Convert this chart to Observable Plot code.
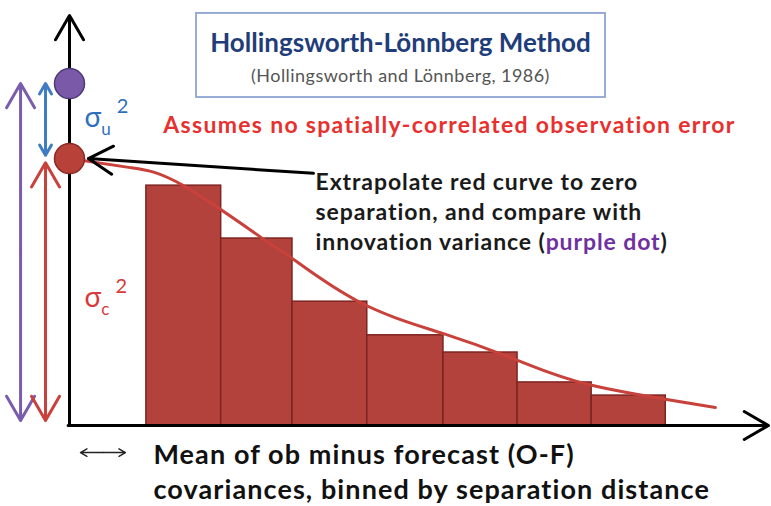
<!DOCTYPE html>
<html><head><meta charset="utf-8">
<script src="https://cdn.jsdelivr.net/npm/d3@7"></script>
<script src="https://cdn.jsdelivr.net/npm/@observablehq/plot@0.6"></script>
<style>body{margin:0;background:#fff} svg{display:block}</style>
</head><body><div id="chart"></div>
<script>
// ---- data (separation distance in bin units, covariance normalised) ----
const binStart = [1.10, 2.17, 3.19, 4.26, 5.35, 6.41, 7.47];
const binEnd   = [2.17, 3.19, 4.26, 5.35, 6.41, 7.47, 8.53];
const meanCov  = [0.585, 0.456, 0.302, 0.220, 0.178, 0.105, 0.073];

const curveDist = [0, 0.87, 1.63, 2.78, 3.19, 4.16, 5.35, 6.41, 7.47, 9.24];
const curveCov  = [0.651, 0.629, 0.585, 0.454, 0.407, 0.300, 0.224, 0.159, 0.098, 0.044];

const innovationVar = 0.834;   // purple dot
const extrapolatedVar = 0.651; // red dot

const titleText = "Hollingsworth-Lönnberg Method";
const subtitleText = "(Hollingsworth and Lönnberg, 1986)";
const assumptionText = "Assumes no spatially-correlated observation error";
const noteLines = ["Extrapolate red curve to zero", "separation, and compare with", "innovation variance (purple dot)"];
const xLabelLines = ["Mean of ob minus forecast (O-F)", "covariances, binned by separation distance"];

// ---- build tables ----
const bins = binStart.map((s, i) => ({x1: s, x2: binEnd[i], v: meanCov[i]}));
const curvePts = curveDist.map((d, i) => ({d, c: curveCov[i]}));

const FONT = "Lato, 'Open Sans', sans-serif";
const cRed = "#c8413b", cBar = "#b3423c", cPurple = "#7a5cad", cBlue = "#3f7cc4";

const plot = Plot.plot({
  width: 771, height: 506,
  marginTop: 0, marginRight: 0, marginBottom: 0, marginLeft: 0,
  x: {domain: [0, 10], range: [69, 768], axis: null},
  y: {domain: [0, 1], range: [425, 15], axis: null},
  style: {fontFamily: FONT, background: "white"},
  marks: [
    // title box
    Plot.rect([{x1: 1.817, x2: 7.668, y1: 0.80, y2: 1.005}], {x1: "x1", x2: "x2", y1: "y1", y2: "y2", fill: "white", stroke: "#8fa4d4", strokeWidth: 1.8}),
    Plot.text([titleText], {x: 4.735, y: 0.931, text: d => d, fontSize: 26, fontWeight: 700, fill: "#1f3d7a"}),
    Plot.text([subtitleText], {x: 4.735, y: 0.851, text: d => d, fontSize: 18, fill: "#555", className: "sub"}),
    Plot.text([assumptionText], {x: 5.436, y: 0.732, text: d => d, fontSize: 23, fontWeight: 700, fill: "#e8302e", className: "assume"}),
    // bars
    Plot.rect(bins, {x1: "x1", x2: "x2", y1: 0, y2: "v", fill: cBar, stroke: "#7d2521", strokeWidth: 1.5}),
    // fitted curve
    Plot.line(curvePts, {x: "d", y: "c", curve: "natural", stroke: cRed, strokeWidth: 3}),
    // axes with arrowheads
    Plot.arrow([{x1: 0, y1: 0, x2: 0, y2: 1}, {x1: -0.02, y1: 0, x2: 10, y2: 0}], {x1: "x1", y1: "y1", x2: "x2", y2: "y2", stroke: "black", strokeWidth: 3, headLength: 14}),
    // left variance arrows (double-headed drawn as two arrows from middle)
    Plot.arrow([{x: -0.70, a: 0.42, b: 0.834}, {x: -0.70, a: 0.42, b: 0.012}], {x1: "x", x2: "x", y1: "a", y2: "b", stroke: cPurple, strokeWidth: 3, headLength: 14}),
    Plot.arrow([{x: -0.343, a: 0.746, b: 0.834}, {x: -0.343, a: 0.746, b: 0.659}], {x1: "x", x2: "x", y1: "a", y2: "b", stroke: cBlue, strokeWidth: 3, headLength: 14}),
    Plot.arrow([{x: -0.343, a: 0.33, b: 0.641}, {x: -0.343, a: 0.33, b: 0.012}], {x1: "x", x2: "x", y1: "a", y2: "b", stroke: cRed, strokeWidth: 3, headLength: 14}),
    // dots
    Plot.dot([innovationVar], {x: 0, y: d => d, r: 15, fill: "#7a5aa8", stroke: "#4d3a78", strokeWidth: 1.5}),
    Plot.dot([extrapolatedVar], {x: 0, y: d => d, r: 15, fill: "#b8413a", stroke: "#8a2a25", strokeWidth: 1.5}),
    // annotation arrow
    Plot.arrow([{x1: 3.49, y1: 0.615, x2: 0.27, y2: 0.651}], {x1: "x1", y1: "y1", x2: "x2", y2: "y2", stroke: "black", strokeWidth: 3, headLength: 14}),
    Plot.text(noteLines, {x: 3.52, y: (d, i) => 0.592 - i * 0.073, text: d => d, textAnchor: "start", fontSize: 23, fontWeight: 700, fill: "#1a1a1a", className: "note"}),
    // sigma labels
    Plot.text(["σu2"], {x: 0.215, y: 0.751, text: d => d, textAnchor: "start", fontSize: 28, fill: "#2e6fbd"}),
    Plot.text(["σc2"], {x: 0.215, y: 0.310, text: d => d, textAnchor: "start", fontSize: 28, fill: "#d8393a"}),
    // x label with small double arrow
    Plot.arrow([{a: 0.48, b: 0.157}, {a: 0.48, b: 0.80}], {x1: "a", x2: "b", y1: () => -0.066, y2: () => -0.066, stroke: "#222", strokeWidth: 1.4, headLength: 8}),
    Plot.text(xLabelLines, {x: 1.20, y: (d, i) => -0.073 - i * 0.086, text: d => d, textAnchor: "start", fontSize: 27, fontWeight: 700, fill: "#111", className: "xlab"})
  ]
});

// letter spacing to match the wide lettering of the original
d3.select(plot).selectAll(".sub text").attr("letter-spacing", 0.45);
d3.select(plot).selectAll(".assume text").attr("letter-spacing", 1.3);
d3.select(plot).selectAll(".note text").attr("letter-spacing", 0.9);
d3.select(plot).selectAll(".xlab text").attr("letter-spacing", 1.1);

// rich-text post-processing (sub/superscripts and coloured words)
d3.select(plot).selectAll("text").each(function() {
  const t = d3.select(this);
  const s = this.textContent;
  if (s === "innovation variance (purple dot)") {
    t.text("");
    t.append("tspan").text("innovation variance (");
    t.append("tspan").attr("fill", "#7030a0").text("purple dot");
    t.append("tspan").text(")");
  } else if (s === "σu2" || s === "σc2") {
    t.text("");
    t.append("tspan").text("σ");
    t.append("tspan").attr("font-size", 17).attr("dy", 8).text(s[1]);
    t.append("tspan").attr("font-size", 20).attr("dy", -22).attr("dx", 6).text("2");
  }
});

document.getElementById("chart").appendChild(plot);
</script></body></html>
